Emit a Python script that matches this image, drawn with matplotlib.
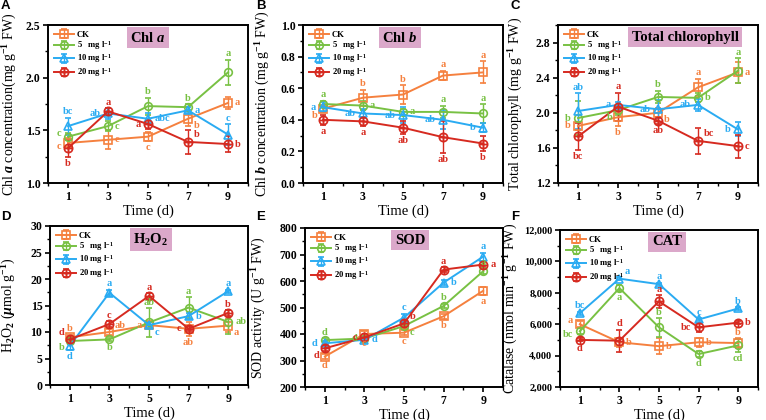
import numpy as np
import matplotlib
matplotlib.use("Agg")
import matplotlib.pyplot as plt
from matplotlib.path import Path
from matplotlib.ticker import MultipleLocator, FuncFormatter

plt.rcParams['font.family'] = ['Liberation Serif', 'DejaVu Serif']
plt.rcParams['font.weight'] = 'bold'
plt.rcParams['mathtext.fontset'] = 'custom'
plt.rcParams['mathtext.rm'] = 'Liberation Serif:bold'
plt.rcParams['mathtext.it'] = 'Liberation Serif:italic:bold'
plt.rcParams['mathtext.bf'] = 'Liberation Serif:bold'

# ---- data ----
days = [1, 3, 5, 7, 9]
groups = ["CK", "5   mg l$^{-1}$", "10 mg l$^{-1}$", "20 mg l$^{-1}$"]

chla = [[1.38, 1.41, 1.44, 1.61, 1.76],
        [1.44, 1.54, 1.73, 1.72, 2.05],
        [1.54, 1.66, 1.61, 1.69, 1.46],
        [1.33, 1.68, 1.56, 1.39, 1.37]]
chla_err = [[0.05, 0.09, 0.04, 0.07, 0.06],
            [0.03, 0.05, 0.08, 0.03, 0.12],
            [0.08, 0.05, 0.05, 0.03, 0.10],
            [0.08, 0.03, 0.05, 0.11, 0.08]]
chla_let = [["c", "c", "c", "b", "a"],
            ["c", "c", "b", "b", "a"],
            ["bc", "ab", "abc", "a", "c"],
            ["b", "a", "a", "b", "b"]]

chlb = [[0.47, 0.54, 0.56, 0.68, 0.70],
        [0.50, 0.49, 0.45, 0.45, 0.44],
        [0.48, 0.44, 0.43, 0.40, 0.35],
        [0.40, 0.39, 0.35, 0.29, 0.25]]
chlb_err = [[0.02, 0.05, 0.06, 0.03, 0.07],
            [0.02, 0.03, 0.02, 0.04, 0.06],
            [0.03, 0.03, 0.05, 0.06, 0.03],
            [0.03, 0.03, 0.04, 0.10, 0.05]]
chlb_let = [["b", "b", "b", "a", "a"],
            ["a", "a", "a", "a", "a"],
            ["a", "ab", "ab", "ab", "b"],
            ["a", "a", "ab", "ab", "b"]]

total = [[1.85, 1.95, 2.00, 2.29, 2.46],
         [1.94, 2.03, 2.18, 2.17, 2.48],
         [2.02, 2.09, 2.04, 2.09, 1.81],
         [1.73, 2.07, 1.91, 1.68, 1.62]]
total_err = [[0.05, 0.10, 0.05, 0.10, 0.12],
             [0.19, 0.05, 0.07, 0.05, 0.14],
             [0.20, 0.03, 0.10, 0.07, 0.08],
             [0.15, 0.16, 0.04, 0.15, 0.13]]
total_let = [["b", "b", "b", "a", "a"],
             ["b", "b", "b", "b", "a"],
             ["ab", "a", "ab", "ab", "b"],
             ["bc", "a", "ab", "bc", "c"]]

h2o2 = [[9.0, 10.0, 11.3, 10.6, 11.2],
        [8.3, 8.6, 11.8, 14.6, 11.9],
        [7.4, 17.4, 11.3, 13.0, 17.7],
        [8.6, 11.5, 16.8, 10.6, 13.6]]
h2o2_err = [[0.5, 0.5, 0.6, 1.3, 1.2],
            [0.5, 0.3, 2.7, 2.0, 2.3],
            [0.8, 0.6, 0.5, 0.6, 0.3],
            [0.5, 0.5, 0.5, 0.5, 0.5]]
h2o2_let = [["b", "ab", "a", "ab", "a"],
            ["b", "b", "ab", "a", "ab"],
            ["d", "a", "c", "b", "a"],
            ["d", "c", "a", "c", "b"]]

sod = [[315, 400, 405, 467, 563],
       [377, 383, 430, 506, 637],
       [365, 378, 462, 594, 692],
       [346, 387, 440, 643, 662]]
sod_err = [[10, 10, 10, 10, 15],
           [8, 8, 8, 8, 10],
           [10, 10, 15, 10, 15],
           [10, 10, 10, 10, 10]]
sod_let = [["d", "c", "c", "b", "a"],
           ["d", "d", "c", "b", "a"],
           ["d", "d", "c", "b", "a"],
           ["d", "c", "b", "a", "a"]]

cat = [[6000, 4850, 4600, 4850, 4800],
       [5550, 8300, 5800, 4100, 4650],
       [6700, 8900, 8550, 6300, 7000],
       [5000, 4950, 7450, 5800, 6100]]
cat_err = [[200, 300, 500, 300, 300],
           [200, 200, 600, 200, 400],
           [100, 100, 100, 100, 100],
           [100, 700, 400, 300, 100]]
cat_let = [["a", "b", "b", "b", "b"],
           ["bc", "a", "b", "d", "cd"],
           ["bc", "a", "a", "c", "b"],
           ["d", "d", "a", "bc", "b"]]

# ---- style ----
colors = ["#F5803E", "#78C143", "#2AABF2", "#D62A20"]
# circle with a cross for the 20 mg group
oplus = Path.make_compound_path(
    Path.unit_circle(),
    Path([[-1, 0], [1, 0], [0, -1], [0, 1]],
         [Path.MOVETO, Path.LINETO, Path.MOVETO, Path.LINETO]))
markers = ["s", "o", "^", oplus]
# letter placement: u above, d below, l left, r right, q/e/z/c diagonals,
# Q/Z slightly up/down on the left
offs = {"u": (0, 1, "center", "bottom"), "d": (0, -1.5, "center", "top"),
        "l": (-5, 0, "right", "center"), "r": (5, 0, "left", "center"),
        "q": (-4, 5, "right", "center"), "e": (4, 5, "left", "center"),
        "z": (-4, -5, "right", "center"), "c": (4, -5, "left", "center"),
        "Q": (-5, 2.5, "right", "center"), "Z": (-5, -2.5, "right", "center")}


def panel(rect, tag_xy, title, tx, ylabel, lx, ylim, ymaj, ymin, vals, errs, lets,
          where, tick_fs=8.5, fmt=None):
    ax = fig.add_axes([rect[0] / 766, 1 - rect[3] / 420, (rect[2] - rect[0]) / 766,
                       (rect[3] - rect[1]) / 420])
    for i in range(4):
        ax.errorbar(days, vals[i], yerr=errs[i], color=colors[i], lw=1.4,
                    marker=markers[i], ms=5.5 if i < 3 else 6, mfc="none", mew=1.2,
                    capsize=2.5, elinewidth=1, label=groups[i])
        for j in range(5):
            w = where[i][j]
            dx, dy, ha, va = offs[w]
            y = vals[i][j]
            if w == "u":
                y = y + errs[i][j]
            elif w == "d":
                y = y - errs[i][j]
            ax.annotate(lets[i][j], (days[j], y), xytext=(dx, dy),
                        textcoords="offset points", ha=ha, va=va, fontsize=7.5,
                        color=colors[i], fontweight="bold")
    ax.set_xlim(0, 10)
    ax.set_ylim(*ylim)
    ax.set_xticks(days)
    ax.xaxis.set_minor_locator(MultipleLocator(1))
    ax.yaxis.set_major_locator(MultipleLocator(ymaj))
    ax.yaxis.set_minor_locator(MultipleLocator(ymin))
    if fmt:
        ax.yaxis.set_major_formatter(FuncFormatter(fmt))
    ax.tick_params(axis="x", which="major", labelsize=8.5)
    ax.tick_params(axis="y", which="major", labelsize=tick_fs)
    ax.tick_params(which="major", length=3.5, width=1.2, pad=2)
    ax.tick_params(which="minor", length=2, width=1)
    for s in ax.spines.values():
        s.set_linewidth(1.4)
    ax.set_ylabel(ylabel, fontsize=10)
    ax.yaxis.set_label_coords(lx, 0.5)
    ax.set_xlabel("Time (d)", fontsize=10.5, labelpad=1)
    ax.legend(loc="upper left", frameon=False, fontsize=6.2, handlelength=2.4,
              handletextpad=0.3, labelspacing=0.05, borderaxespad=0.25)
    ax.text(tx, 0.965, title, transform=ax.transAxes, ha="center", va="top",
            fontsize=10.5, bbox=dict(boxstyle="square,pad=0.25", fc="#DBA8CA", ec="none"))
    fig.text(tag_xy[0] / 766, 1 - tag_xy[1] / 420, tag_xy[2], fontsize=9.5,
             fontweight="bold", family="Liberation Sans", ha="left", va="top")
    return ax


fig = plt.figure(figsize=(7.66, 4.2), dpi=100)

panel((48, 25, 248, 183), (1, 0, "A"), "Chl $a$", 0.5,
      "Chl $a$ concentration(mg g$^{-1}$ FW)", -0.145,
      (1.0, 2.5), 0.5, 0.25, chla, chla_err, chla_let,
      ["Zrdcr", "Qruuu", "ulrru", "duler"])
panel((303, 25, 503, 183), (256, 0, "B"), "Chl $b$", 0.485,
      "Chl $b$ concentration (mg g$^{-1}$ FW)", -0.155,
      (0.0, 1.0), 0.2, 0.1, chlb, chlb_err, chlb_let,
      ["zuuuu", "urruu", "lllll", "ddddd"])
panel((558, 25, 758, 183), (511, 0, "C"), "Total chlorophyll", 0.635,
      "Total chlorophyll (mg g$^{-1}$ FW)", -0.165,
      (1.2, 3.0), 0.4, 0.2, total, total_err, total_let,
      ["ldcur", "lzuru", "ullll", "duder"])
panel((50, 226, 248, 385), (1, 211, "D"), "H$_2$O$_2$", 0.51,
      "H$_2$O$_2$ ($\\mu$mol g$^{-1}$)", -0.16,
      (0, 30), 5, 2.5, h2o2, h2o2_err, h2o2_let,
      ["ueldc", "zduur", "ducru", "quulu"])
panel((305, 228, 503, 387), (256, 211, "E"), "SOD", 0.53,
      "SOD activity (U g$^{-1}$ FW)", -0.185,
      (200, 800), 100, 50, sod, sod_err, sod_let,
      ["ddddd", "ulcuu", "lruru", "zleur"])
panel((560, 230, 758, 387), (511, 211, "F"), "CAT", 0.54,
      "Catalase (nmol min$^{-1}$ g$^{-1}$ FW)", -0.2,
      (2000, 12000), 2000, 1000, cat, cat_err, cat_let,
      ["Qrrru", "Zdudd", "ueuuu", "duulr"], tick_fs=7.5,
      fmt=lambda v, p: f"{int(v):,}")

fig.savefig("out.png", dpi=100)
